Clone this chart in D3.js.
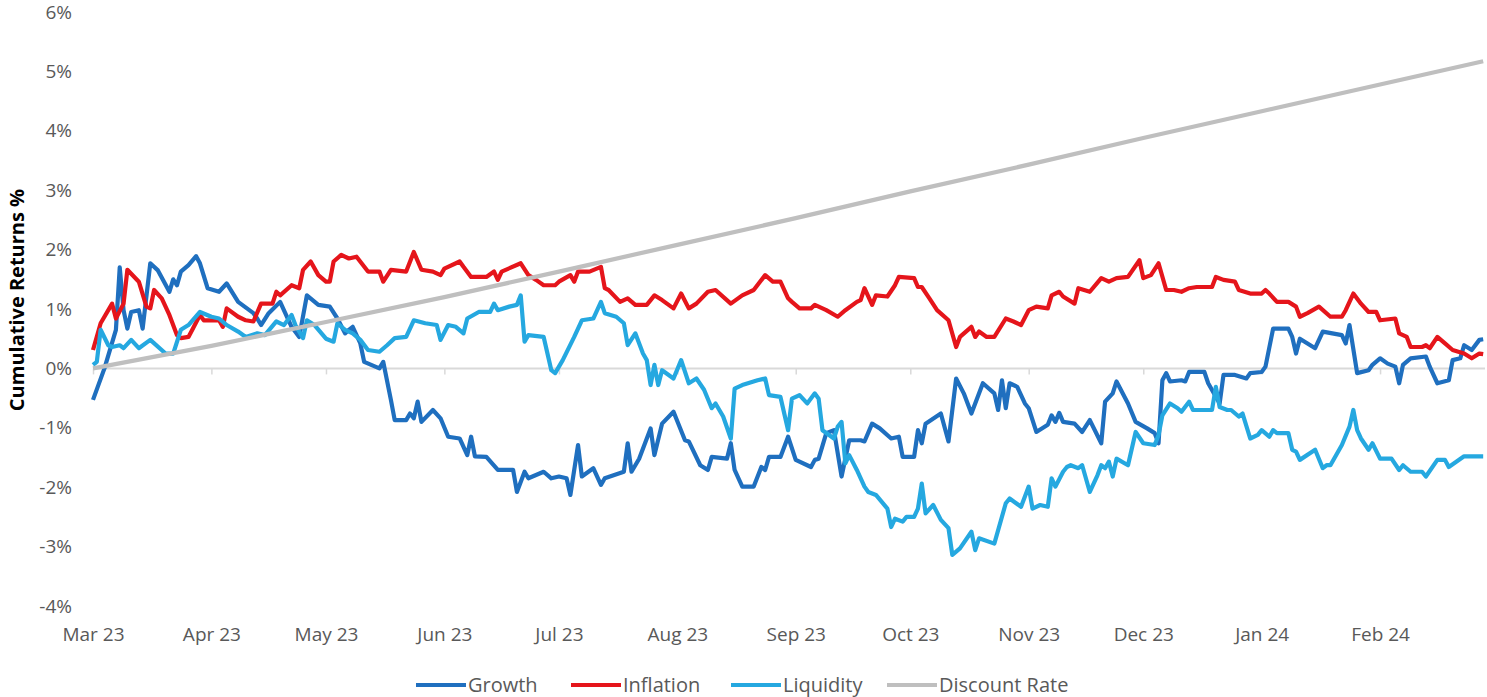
<!DOCTYPE html>
<html>
<head>
  <meta charset="utf-8">
  <title>Cumulative Returns</title>
  <script src="https://d3js.org/d3.v7.min.js"></script>
  <style>
    html, body { margin: 0; height: 100%; overflow: hidden; background: #fff; }
    #chart { width: 1487px; height: 697px; }
    text { font-family: "Open Sans", "Noto Sans", sans-serif; }
  </style>
</head>
<body>
  <div id="chart"></div>
  <script>
    // day offsets are counted from 1 Mar 2023
    const startDate = new Date(2023, 2, 1);
    const endDate = new Date(2024, 1, 29);

    const growth = [
      [0,-0.53],[3,0.0],[6,0.65],[7,1.7],[8,0.98],[9,0.67],[10,0.95],[12,0.98],[13,0.67],[15,1.77],
      [17,1.65],[20,1.29],[21,1.5],[22,1.4],[23,1.63],[25,1.74],[27,1.89],[28,1.77],[30,1.35],[33,1.29],
      [35,1.43],[38,1.12],[42,0.93],[43,0.84],[44,0.73],[46,0.93],[49,1.12],[51,0.84],[52,0.7],[54,0.53],
      [56,1.23],[59,1.07],[62,1.04],[64,0.84],[66,0.59],[67,0.65],[68,0.7],[70,0.42],[71,0.11],[75,0.0],
      [76,0.11],[78,-0.53],[79,-0.87],[82,-0.87],[83,-0.76],[84,-0.84],[85,-0.56],[86,-0.9],[89,-0.7],[91,-0.84],
      [93,-1.15],[96,-1.18],[98,-1.46],[99,-1.15],[100,-1.48],[103,-1.49],[106,-1.71],[110,-1.71],[111,-2.08],[113,-1.74],
      [114,-1.85],[118,-1.74],[120,-1.85],[122,-1.82],[124,-1.85],[125,-2.13],[127,-1.29],[128,-1.82],[131,-1.68],[133,-1.96],
      [134,-1.85],[139,-1.74],[140,-1.26],[141,-1.74],[143,-1.52],[146,-1.01],[147,-1.46],[149,-0.93],[152,-0.73],[155,-1.21],
      [156,-1.23],[159,-1.63],[161,-1.71],[162,-1.49],[166,-1.52],[167,-1.26],[168,-1.71],[170,-1.99],[173,-1.99],[175,-1.66],
      [176,-1.71],[177,-1.49],[180,-1.49],[182,-1.15],[184,-1.54],[188,-1.66],[189,-1.54],[190,-1.52],[192,-1.09],[194,-1.04],
      [196,-1.82],[198,-1.21],[201,-1.21],[202,-1.23],[204,-0.93],[206,-1.01],[209,-1.18],[211,-1.15],[212,-1.49],[215,-1.49],
      [216,-1.04],[217,-1.26],[218,-0.93],[222,-0.76],[224,-1.23],[226,-0.17],[228,-0.42],[230,-0.76],[233,-0.25],[236,-0.42],
      [237,-0.7],[238,-0.2],[239,-0.67],[240,-0.25],[242,-0.31],[244,-0.59],[245,-0.67],[247,-1.07],[250,-0.95],[251,-0.79],
      [252,-0.9],[253,-0.75],[254,-0.9],[257,-0.93],[259,-1.07],[261,-0.87],[264,-1.26],[265,-0.56],[267,-0.42],[268,-0.22],
      [271,-0.59],[273,-0.9],[276,-1.01],[278,-1.09],[279,-1.26],[280,-0.2],[281,-0.08],[282,-0.22],[285,-0.2],[286,-0.22],
      [287,-0.06],[291,-0.06],[292,-0.25],[295,-0.59],[296,-0.11],[299,-0.11],[302,-0.17],[303,-0.08],[306,-0.06],[307,0.03],
      [309,0.67],[313,0.67],[314,0.53],[315,0.25],[316,0.5],[320,0.34],[322,0.62],[327,0.56],[328,0.42],[329,0.73],
      [331,-0.08],[334,-0.03],[335,0.06],[337,0.17],[339,0.08],[341,0.03],[342,-0.25],[343,0.06],[345,0.17],[349,0.2],
      [350,0.03],[352,-0.25],[355,-0.2],[356,0.14],[358,0.17],[359,0.39],[361,0.31],[363,0.48],[364,0.49]
    ];

    const inflation = [
      [0,0.31],[2,0.76],[5,1.09],[6,0.84],[8,1.09],[9,1.66],[12,1.46],[14,1.04],[15,1.01],[16,1.32],
      [18,1.18],[20,0.9],[22,0.56],[23,0.51],[25,0.53],[26,0.65],[28,0.9],[29,0.81],[33,0.81],[34,0.7],
      [35,1.01],[38,0.87],[40,0.81],[42,0.79],[44,1.09],[47,1.09],[48,1.29],[49,1.23],[52,1.4],[54,1.35],
      [55,1.66],[57,1.8],[59,1.57],[61,1.46],[62,1.46],[63,1.8],[65,1.91],[67,1.85],[69,1.88],[72,1.63],
      [75,1.63],[76,1.46],[78,1.66],[82,1.63],[84,1.96],[86,1.66],[89,1.63],[91,1.57],[92,1.68],[96,1.8],
      [97,1.71],[99,1.54],[103,1.54],[105,1.63],[106,1.49],[107,1.63],[112,1.77],[114,1.57],[116,1.49],[118,1.4],
      [121,1.4],[122,1.46],[125,1.57],[126,1.46],[127,1.63],[130,1.63],[133,1.71],[134,1.35],[135,1.32],[138,1.12],
      [140,1.18],[142,1.07],[145,1.07],[147,1.23],[149,1.15],[152,1.01],[154,1.26],[156,1.01],[158,1.09],[161,1.29],
      [163,1.32],[167,1.09],[170,1.23],[173,1.32],[176,1.57],[178,1.46],[180,1.46],[182,1.18],[183,1.12],[185,1.01],
      [188,1.01],[189,1.07],[192,0.98],[195,0.87],[197,0.98],[200,1.12],[201,1.15],[202,1.35],[204,1.07],[205,1.23],
      [208,1.21],[210,1.4],[211,1.54],[215,1.52],[216,1.37],[217,1.37],[219,1.18],[221,0.98],[224,0.81],[226,0.36],
      [227,0.53],[230,0.7],[231,0.53],[232,0.62],[234,0.53],[236,0.53],[239,0.84],[241,0.79],[243,0.73],[245,0.98],
      [247,1.04],[250,1.01],[251,1.23],[253,1.29],[254,1.21],[257,1.09],[258,1.35],[261,1.29],[264,1.52],[266,1.46],
      [268,1.52],[271,1.54],[274,1.82],[275,1.52],[277,1.57],[279,1.77],[281,1.32],[283,1.32],[285,1.29],[287,1.35],
      [289,1.37],[293,1.37],[294,1.54],[296,1.49],[299,1.46],[300,1.32],[303,1.26],[306,1.26],[307,1.32],[308,1.26],
      [310,1.12],[313,1.12],[315,1.04],[316,0.87],[318,0.93],[321,1.04],[324,0.87],[327,0.87],[328,0.98],[330,1.26],
      [332,1.09],[334,0.95],[336,0.95],[337,0.81],[341,0.84],[342,0.59],[344,0.53],[345,0.36],[348,0.36],[349,0.39],
      [350,0.34],[352,0.53],[354,0.42],[356,0.31],[359,0.25],[361,0.17],[363,0.25],[364,0.24]
    ];

    const liquidity = [
      [0,0.06],[1,0.11],[2,0.65],[4,0.39],[5,0.36],[7,0.39],[8,0.34],[10,0.48],[12,0.34],[15,0.48],
      [19,0.25],[21,0.25],[23,0.65],[25,0.73],[28,0.95],[31,0.87],[33,0.84],[35,0.73],[38,0.62],[40,0.53],
      [43,0.59],[45,0.56],[48,0.79],[50,0.73],[52,0.9],[53,0.73],[55,0.51],[56,0.81],[58,0.73],[61,0.5],
      [63,0.45],[64,0.76],[66,0.65],[68,0.59],[70,0.48],[72,0.31],[75,0.28],[77,0.39],[79,0.51],[82,0.53],
      [84,0.81],[87,0.76],[90,0.73],[91,0.48],[93,0.73],[95,0.7],[97,0.59],[98,0.84],[101,0.95],[104,0.95],
      [105,1.09],[106,0.98],[109,1.04],[111,1.07],[112,1.23],[113,0.45],[114,0.56],[118,0.53],[120,-0.03],[121,-0.08],
      [123,0.14],[126,0.53],[128,0.81],[131,0.84],[133,1.12],[134,0.93],[137,0.87],[139,0.76],[140,0.39],[142,0.59],
      [144,0.25],[145,0.14],[146,-0.28],[147,0.06],[148,-0.28],[149,-0.03],[152,-0.17],[154,0.14],[156,-0.25],[158,-0.17],
      [160,-0.36],[162,-0.67],[163,-0.59],[165,-0.81],[167,-1.18],[168,-0.34],[170,-0.28],[174,-0.2],[176,-0.17],[177,-0.45],
      [180,-0.48],[182,-1.04],[183,-0.51],[185,-0.45],[187,-0.59],[189,-0.42],[190,-0.51],[191,-1.04],[194,-1.18],[195,-0.98],
      [196,-0.9],[197,-1.6],[198,-1.46],[200,-1.71],[202,-1.99],[203,-2.08],[205,-2.13],[208,-2.36],[209,-2.67],[210,-2.53],
      [212,-2.58],[213,-2.5],[215,-2.5],[216,-2.36],[217,-1.94],[218,-2.44],[220,-2.3],[222,-2.55],[224,-2.69],[225,-3.14],
      [227,-3.03],[230,-2.75],[231,-3.06],[232,-2.86],[236,-2.95],[239,-2.27],[240,-2.19],[243,-2.33],[245,-1.99],[246,-2.36],
      [248,-2.3],[250,-2.33],[251,-1.85],[252,-1.99],[254,-1.74],[255,-1.66],[256,-1.63],[258,-1.68],[259,-1.63],[261,-2.08],
      [263,-1.8],[264,-1.63],[265,-1.68],[266,-1.57],[267,-1.82],[268,-1.52],[271,-1.63],[273,-1.07],[275,-1.26],[278,-1.29],
      [279,-1.12],[280,-0.79],[282,-0.59],[284,-0.67],[285,-0.73],[287,-0.56],[288,-0.7],[293,-0.7],[294,-0.31],[295,-0.65],
      [297,-0.7],[298,-0.7],[300,-0.81],[301,-0.76],[303,-1.18],[305,-1.12],[306,-1.04],[308,-1.15],[309,-1.04],[310,-1.09],
      [313,-1.09],[314,-1.37],[315,-1.4],[316,-1.54],[320,-1.37],[322,-1.68],[323,-1.63],[324,-1.63],[327,-1.29],[329,-0.98],
      [330,-0.7],[331,-1.04],[332,-1.18],[334,-1.37],[335,-1.26],[337,-1.52],[340,-1.52],[342,-1.71],[343,-1.63],[345,-1.74],
      [348,-1.74],[349,-1.82],[352,-1.54],[354,-1.54],[355,-1.66],[359,-1.48],[364,-1.48]
    ];

    const discountRate = [
      [0,0.0],[31,0.38],[61,0.78],[92,1.2],[122,1.63],[153,2.08],[184,2.53],
      [214,2.98],[245,3.43],[275,3.88],[306,4.33],[337,4.78],[364,5.17]
    ];

    const seriesNames = ['Growth', 'Inflation', 'Liquidity', 'Discount Rate'];
    const seriesColors = ['#1f6fbf', '#e5151b', '#25a8e0', '#bfbfbf'];
    const seriesData = [growth, inflation, liquidity, discountRate];
    const yTicks = [-4, -3, -2, -1, 0, 1, 2, 3, 4, 5, 6];

    const width = 1487, height = 697;

    const svg = d3.select('#chart')
      .append('svg')
      .attr('width', width)
      .attr('height', height);

    const x = d3.scaleTime()
      .domain([startDate, endDate])
      .range([93, 1487]);

    const y = d3.scaleLinear()
      .domain([-4, 6])
      .range([606, 12]);

    // y axis labels
    const yAxis = svg.append('g')
      .attr('transform', 'translate(93,0)')
      .call(d3.axisLeft(y).tickValues(yTicks).tickSize(0).tickPadding(21).tickFormat(d => d + '%'));
    yAxis.select('.domain').remove();
    yAxis.selectAll('text')
      .attr('fill', '#595959')
      .style('font-size', '19px');

    // zero line with month ticks
    const months = d3.timeMonth.range(startDate, endDate);
    const zeroAxis = svg.append('g')
      .attr('transform', `translate(0,${y(0)})`)
      .call(d3.axisBottom(x).tickValues(months).tickSize(6).tickFormat(''));
    zeroAxis.select('.domain').attr('stroke', '#d9d9d9').attr('stroke-width', 2)
      .attr('d', `M${x(startDate)},0H1485`);
    zeroAxis.selectAll('.tick line').attr('stroke', '#d9d9d9').attr('stroke-width', 1.5);

    // month labels at bottom
    const xAxis = svg.append('g')
      .attr('transform', 'translate(0,627)')
      .call(d3.axisBottom(x).tickValues(months).tickSize(0).tickPadding(0).tickFormat(d3.timeFormat('%b %y')));
    xAxis.select('.domain').remove();
    xAxis.selectAll('text')
      .attr('fill', '#595959')
      .style('font-size', '19px');

    // y title
    svg.append('text')
      .attr('transform', 'translate(24,300) rotate(-90)')
      .attr('text-anchor', 'middle')
      .attr('font-weight', 'bold')
      .attr('fill', '#000')
      .style('font-size', '20px')
      .text('Cumulative Returns %');

    const line = d3.line()
      .x(d => x(d3.timeDay.offset(startDate, d[0])))
      .y(d => y(d[1]));

    seriesData.forEach((s, i) => {
      svg.append('path')
        .datum(s)
        .attr('fill', 'none')
        .attr('stroke', seriesColors[i])
        .attr('stroke-width', 4.2)
        .attr('stroke-linejoin', 'round')
        .attr('d', line);
    });

    // legend
    const legendX = [416, 571, 731, 887];
    const legend = svg.append('g').attr('transform', 'translate(0,685)');
    seriesNames.forEach((name, i) => {
      const g = legend.append('g').attr('transform', `translate(${legendX[i]},0)`);
      g.append('line')
        .attr('x1', 0).attr('x2', 50)
        .attr('stroke', seriesColors[i])
        .attr('stroke-width', 4);
      g.append('text')
        .attr('x', 52)
        .attr('dy', '0.35em')
        .attr('fill', '#595959')
        .style('font-size', '20px')
        .text(name);
    });
  </script>
</body>
</html>
